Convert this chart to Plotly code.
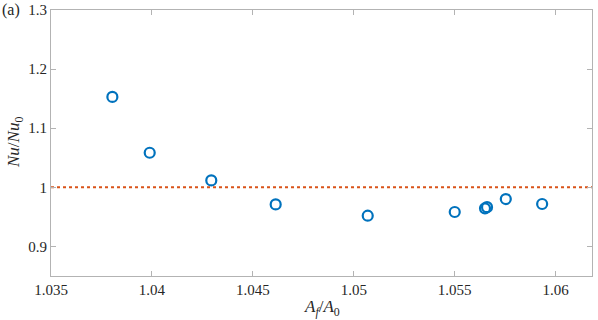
import plotly.graph_objects as go

area_ratio = [1.03804, 1.03989, 1.04294, 1.04613, 1.05069, 1.05500, 1.05650, 1.05660, 1.05753, 1.05933]
nu_ratio = [1.153, 1.0585, 1.0117, 0.9711, 0.952, 0.9583, 0.9645, 0.9665, 0.9802, 0.9718]
reference_level = 1.0
x_ticks = [1.035, 1.04, 1.045, 1.05, 1.055, 1.06]
x_tick_labels = ["1.035", "1.04", "1.045", "1.05", "1.055", "1.06"]
y_ticks = [0.9, 1.0, 1.1, 1.2, 1.3]
y_tick_labels = ["0.9", "1", "1.1", "1.2", "1.3"]

font_family = "Liberation Serif"
axis_color = "#b3b3b3"
text_color = "#262626"

fig = go.Figure()
fig.add_trace(go.Scatter(
    x=area_ratio, y=nu_ratio, mode="markers",
    marker=dict(symbol="circle-open", size=10, color="#0072BD",
                line=dict(width=2.2, color="#0072BD")),
    showlegend=False, hoverinfo="skip"))

fig.add_shape(type="line", xref="paper", x0=0, x1=1, yref="y",
              y0=reference_level, y1=reference_level,
              line=dict(color="#D95319", width=2, dash="dot"), layer="below")

axis_common = dict(showgrid=False, zeroline=False, showline=True, linecolor=axis_color,
                   linewidth=1, mirror="ticks", ticks="inside", ticklen=5,
                   tickcolor=axis_color, tickwidth=1, automargin=False,
                   tickfont=dict(family=font_family, size=15, color=text_color))

fig.update_layout(
    width=598, height=320,
    margin=dict(l=51, r=6, t=10, b=44),
    paper_bgcolor="white", plot_bgcolor="white",
    font=dict(family=font_family, color=text_color),
    xaxis=dict(range=[1.035, 1.0618], tickvals=x_ticks, ticktext=x_tick_labels, **axis_common),
    yaxis=dict(range=[0.85, 1.3], tickvals=y_ticks, ticktext=y_tick_labels, **axis_common),
    annotations=[
        dict(text="<i>A<sub>f</sub></i>/<i>A</i><sub>0</sub>", xref="paper", yref="paper",
             x=0.5, y=0, yshift=-32, showarrow=False, yanchor="middle",
             font=dict(family=font_family, size=17, color=text_color)),
        dict(text="<i>Nu</i>/<i>Nu</i><sub>0</sub>", xref="paper", yref="paper",
             x=0, xshift=-36, y=0.5, textangle=-90, showarrow=False, xanchor="center",
             font=dict(family=font_family, size=17, color=text_color)),
        dict(text="(a)", xref="paper", yref="paper", x=0, xshift=-51, y=1, yshift=0,
             xanchor="left", yanchor="middle", showarrow=False,
             font=dict(family=font_family, size=16, color=text_color)),
    ],
)

fig.write_html("out.html", config={"displayModeBar": False},
               post_script="document.body.style.margin='0';document.body.style.padding='0';")
